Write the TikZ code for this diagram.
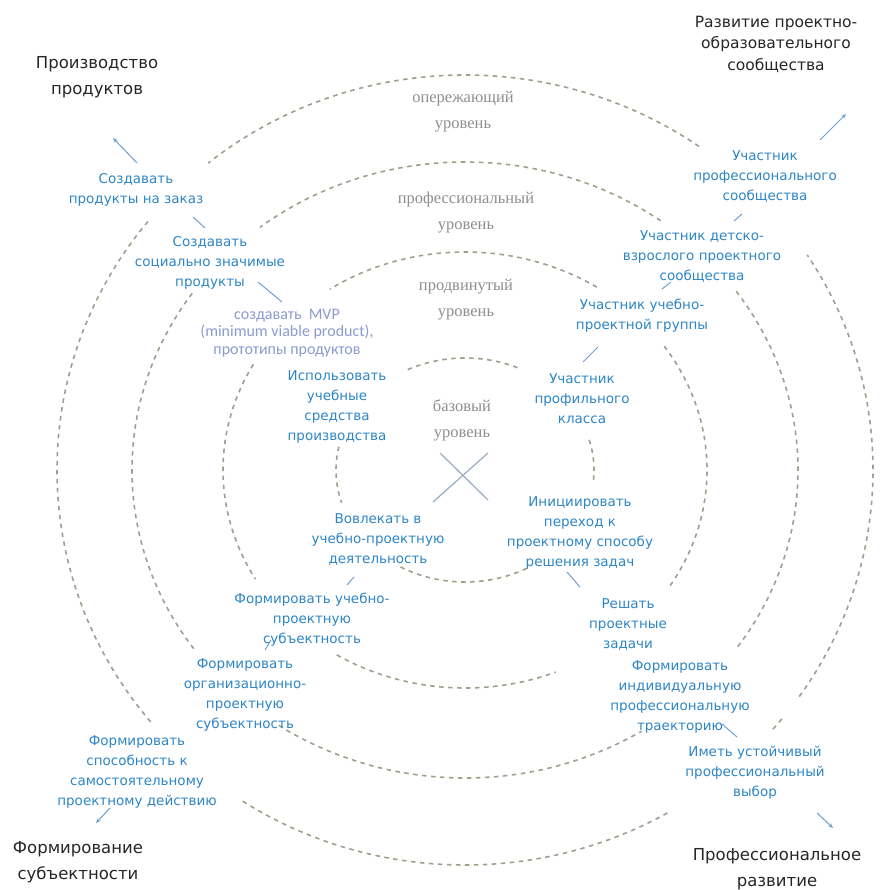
\documentclass[tikz,border=0pt]{standalone}
\usepackage{fontspec}
\setmainfont{DejaVu Sans}
\newfontfamily\lvlfont{Liberation Serif}
\newfontfamily\mvpfont{Carlito}
\usetikzlibrary{arrows.meta}
\definecolor{lvlc}{HTML}{9EA08C}
\definecolor{bluec}{HTML}{2D85C5}
\definecolor{headc}{HTML}{262626}
\definecolor{grayc}{HTML}{8E8E8E}
\definecolor{mvpc}{HTML}{8A9BD0}
\definecolor{conc}{HTML}{6F9FCC}
\definecolor{xc}{HTML}{9FB0C4}
\newcommand\lvlarc[4]{\draw[lvl] (c) ++(-#3:#1 and #2) arc[start angle=-#3, end angle=-#4, x radius=#1, y radius=#2];}
\begin{document}
\begin{tikzpicture}[x=1pt,y=-1pt,
  lvl/.style={draw=lvlc, line width=1.6pt, dash pattern=on 4.5pt off 4.5pt},
  btext/.style={text=bluec, font=\fontsize{13.5}{20}\selectfont, align=center, inner sep=0pt},
  head/.style={text=headc, font=\fontsize{16.5}{26}\selectfont, align=center, inner sep=0pt},
  headr/.style={text=headc, font=\fontsize{15.5}{21.5}\selectfont, align=center, inner sep=0pt},
  lvltext/.style={text=grayc, font=\lvlfont\fontsize{16.5}{26}\selectfont, align=center, inner sep=0pt},
  mvptext/.style={text=mvpc, font=\mvpfont\fontsize{16}{17.5}\selectfont, align=center, inner sep=0pt},
  con/.style={draw=conc, line width=1pt},
  arr/.style={con, -{Stealth[length=5pt,width=4pt]}}
]
\useasboundingbox (0,0) rectangle (879,890);
\coordinate (c) at (465,470);

% level ellipses (broken arcs)
\lvlarc{408}{395}{55}{129}
\lvlarc{408}{395}{141}{220}
\lvlarc{408}{395}{237}{300}
\lvlarc{408}{395}{319}{321.5}
\lvlarc{408}{395}{325}{393}

\lvlarc{333}{308}{54}{128}
\lvlarc{333}{308}{145}{216}
\lvlarc{333}{308}{236}{302}
\lvlarc{333}{308}{325}{396}

\lvlarc{242}{218}{57}{124}
\lvlarc{242}{218}{151}{210}
\lvlarc{242}{218}{238}{292}
\lvlarc{242}{218}{328}{395}

\lvlarc{129}{112}{66}{117}
\lvlarc{129}{112}{168}{197}
\lvlarc{129}{112}{240}{300}
\lvlarc{129}{112}{355}{376}

% centre cross
\coordinate (x1) at (440,453);
\coordinate (x2) at (488,500);
\coordinate (x3) at (433,502);
\coordinate (x4) at (488,453);
\draw[xc, line width=1.3pt] (x1) -- (x2);
\draw[xc, line width=1.3pt] (x3) -- (x4);

% level labels
\node[lvltext] (g1) at (463,112) {опережающий\\уровень};
\node[lvltext] (g2) at (466,213) {профессиональный\\уровень};
\node[lvltext] (g3) at (466,300) {продвинутый\\уровень};
\node[lvltext] (g4) at (462,420) {базовый\\уровень};

% headings
\node[head] (h1) at (97,77) {Производство\\продуктов};
\node[headr] (h2) at (776,44) {Развитие проектно-\\образовательного\\сообщества};
\node[head] (h3) at (78,862) {Формирование\\субъектности};
\node[head] (h4) at (777,869) {Профессиональное\\развитие};

% blue items
\node[btext] (b1) at (136,190) {Создавать\\продукты на заказ};
\node[btext] (b2) at (210,263) {Создавать\\социально значимые\\продукты};
\node[mvptext] (mvp) at (287,333) {создавать\ \ MVP\\(minimum viable product),\\прототипы продуктов};
\node[btext] (b3) at (337,407) {Использовать\\учебные\\средства\\производства};
\node[btext] (b4) at (378,540) {Вовлекать в\\учебно-проектную\\деятельность};
\node[btext] (b5) at (312,620) {Формировать учебно-\\проектную\\субъектность};
\node[btext] (b6) at (245,695) {Формировать\\организационно-\\проектную\\субъектность};
\node[btext] (b7) at (137,772) {Формировать\\способность к\\самостоятельному\\проектному действию};
\node[btext] (b8) at (765,177) {Участник\\профессионального\\сообщества};
\node[btext] (b9) at (702,257) {Участник детско-\\взрослого проектного\\сообщества};
\node[btext] (b10) at (642,316) {Участник учебно-\\проектной группы};
\node[btext] (b11) at (582,399) {Участник\\профильного\\класса};
\node[btext] (b12) at (580,533) {Инициировать\\переход к\\проектному способу\\решения задач};
\node[btext] (b13) at (628,625) {Решать\\проектные\\задачи};
\node[btext] (b14) at (680,697) {Формировать\\индивидуальную\\профессиональную\\траекторию};
\node[btext] (b15) at (755,773) {Иметь устойчивый\\профессиональный\\выбор};

% connectors
\coordinate (k1a) at (137,163); \coordinate (k1b) at (113,138);
\draw[arr] (k1a) -- (k1b);
\coordinate (k2a) at (193,217); \coordinate (k2b) at (205,228);
\draw[con] (k2a) -- (k2b);
\coordinate (k3a) at (258,282); \coordinate (k3b) at (282,302);
\draw[con] (k3a) -- (k3b);
\coordinate (k4a) at (354,577); \coordinate (k4b) at (347,585);
\draw[con] (k4a) -- (k4b);
\coordinate (k5a) at (271,640); \coordinate (k5b) at (265,650);
\draw[con] (k5a) -- (k5b);
\coordinate (k6a) at (110,808); \coordinate (k6b) at (96,823);
\draw[arr] (k6a) -- (k6b);
\coordinate (k7a) at (567,572); \coordinate (k7b) at (580,587);
\draw[con] (k7a) -- (k7b);
\coordinate (k8a) at (722,724); \coordinate (k8b) at (737,737);
\draw[con] (k8a) -- (k8b);
\coordinate (k9a) at (817,813); \coordinate (k9b) at (833,828);
\draw[arr] (k9a) -- (k9b);
\coordinate (k10a) at (820,140); \coordinate (k10b) at (846,114);
\draw[arr] (k10a) -- (k10b);
\coordinate (k11a) at (734,221); \coordinate (k11b) at (742,214);
\draw[con] (k11a) -- (k11b);
\coordinate (k12a) at (662,289); \coordinate (k12b) at (671,282);
\draw[con] (k12a) -- (k12b);
\coordinate (k13a) at (598,347); \coordinate (k13b) at (583,362);
\draw[con] (k13a) -- (k13b);
\end{tikzpicture}
\end{document}
